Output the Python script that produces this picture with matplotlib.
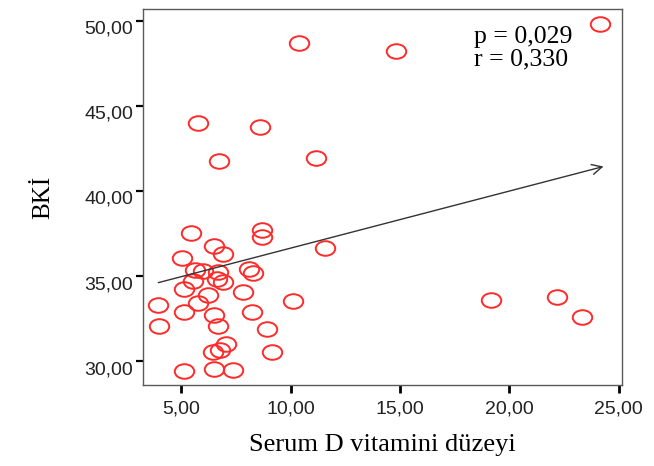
import numpy as np
import matplotlib
matplotlib.use("Agg")
import matplotlib.pyplot as plt
from matplotlib.path import Path
from matplotlib.transforms import Affine2D

# serum D vitamin level vs BKI
vit_d = [24.14, 10.38, 14.80, 5.76, 8.60, 6.72, 11.14, 5.44, 8.67, 8.67,
         6.49, 6.92, 5.02, 11.58, 5.63, 6.01, 6.69, 8.11, 8.26, 6.62,
         6.92, 5.52, 5.14, 6.21, 7.84, 10.12, 3.92, 5.75, 5.14, 6.49,
         8.24, 3.99, 6.66, 8.90, 7.04, 6.77, 6.44, 9.13, 5.14, 6.49,
         7.38, 19.15, 22.19, 23.31]
bki = [49.79, 48.68, 48.22, 43.97, 43.74, 41.74, 41.91, 37.54, 37.72, 37.28,
       36.79, 36.31, 36.07, 36.62, 35.36, 35.28, 35.22, 35.42, 35.16, 34.84,
       34.64, 34.69, 34.21, 33.91, 34.05, 33.56, 33.32, 33.40, 32.91, 32.72,
       32.91, 32.05, 32.05, 31.91, 31.01, 30.68, 30.52, 30.56, 29.40, 29.54,
       29.48, 33.62, 33.79, 32.58]

# fit line as drawn in the original (start, end)
fit_x = [3.95, 24.3]
fit_y = [34.61, 41.43]

x_ticks = [5, 10, 15, 20, 25]
y_ticks = [30, 35, 40, 45, 50]
stats_text = "p = 0,029\nr = 0,330"

fig = plt.figure(figsize=(6.54, 4.66), dpi=100)
ax = fig.add_axes([0.2187, 0.1738, 0.7319, 0.807])

# slightly wide open circle, like the SPSS marker
ell = Path.unit_circle().transformed(Affine2D().scale(1.0, 0.75))
ax.plot(vit_d, bki, linestyle="none", marker=ell, markersize=14,
        markerfacecolor="none", markeredgecolor="#ff2a2a", markeredgewidth=1.4)

ax.annotate("", xy=(fit_x[1], fit_y[1]), xytext=(fit_x[0], fit_y[0]),
            arrowprops=dict(arrowstyle="->", color="#333333", lw=1.0,
                            mutation_scale=18, shrinkA=0, shrinkB=0))

ax.set_xlim(3.25, 25.13)
ax.set_ylim(28.6, 50.68)
ax.set_xticks(x_ticks)
ax.set_yticks(y_ticks)
ax.set_xticklabels([f"{v:.2f}".replace(".", ",") for v in x_ticks],
                   fontfamily="Liberation Sans", fontsize=14, color="#222222")
ax.set_yticklabels([f"{v:.2f}".replace(".", ",") for v in y_ticks],
                   fontfamily="Liberation Sans", fontsize=14, color="#222222",
                   va="top")
ax.tick_params(axis="x", direction="out", length=6, width=2, pad=5)
ax.tick_params(axis="y", direction="out", length=5, width=1.6, pad=2)

for s in ax.spines.values():
    s.set_color("#5a5a5a")
    s.set_linewidth(1.0)

ax.set_xlabel("Serum D vitamini düzeyi", fontfamily="Liberation Serif",
              fontsize=19, labelpad=12)
ax.set_ylabel("BKİ", fontfamily="Liberation Serif", fontsize=18, labelpad=22)

ax.text(0.691, 0.955, stats_text, transform=ax.transAxes, ha="left", va="top",
        fontfamily="Liberation Serif", fontsize=18.5, linespacing=1.05)

fig.savefig("out.png", dpi=100)
